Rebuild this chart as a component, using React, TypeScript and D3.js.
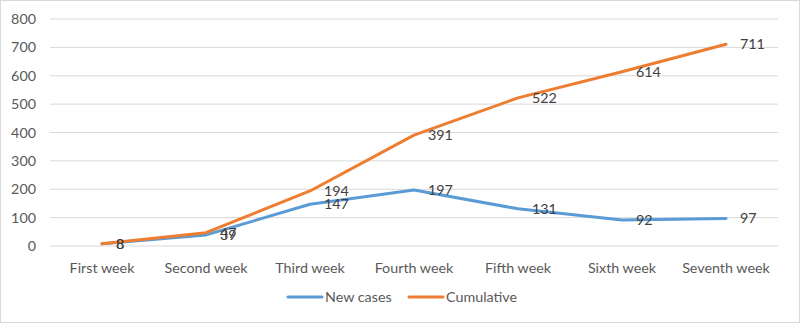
import React from "react";
import * as d3 from "d3";

const categories = ["First week", "Second week", "Third week", "Fourth week", "Fifth week", "Sixth week", "Seventh week"];
const newCases = [8, 39, 147, 197, 131, 92, 97];
const cumulative = [8, 47, 194, 391, 522, 614, 711];
const yTicks = [0, 100, 200, 300, 400, 500, 600, 700, 800];
const seriesNames = ["New cases", "Cumulative"];

const W = 800, H = 326;
const colors = ["#5B9BD5", "#ED7D31"];

export default function App() {
  const x = d3.scaleBand<string>().domain(categories).range([50, 778]);
  const y = d3.scaleLinear().domain([0, 800]).range([246, 19]);
  const cx = (c: string) => (x(c) as number) + x.bandwidth() / 2;
  const line = d3.line<number>()
    .x((_, i) => cx(categories[i]))
    .y((d) => y(d))
    .curve(d3.curveLinear);
  const series = [newCases, cumulative];
  const font = "Lato, 'Open Sans', sans-serif";
  const fs = 14.3;
  return (
    <svg width={W} height={H} style={{ position: "absolute", left: 0, top: 0, background: "#fff" }} fontFamily={font}>
      <rect x={0.5} y={0.5} width={W - 1} height={H - 4} fill="#fff" stroke="#D9D9D9" />
      {yTicks.map((t) => (
        <g key={t}>
          <line x1={50} x2={778} y1={y(t)} y2={y(t)} stroke="#D9D9D9" strokeWidth={1} />
          <text x={36} y={y(t)} dy="0.35em" textAnchor="end" fontSize={fs} fill="#595959">{t}</text>
        </g>
      ))}
      {categories.map((c) => (
        <text key={c} x={cx(c)} y={268} dy="0.35em" textAnchor="middle" fontSize={fs} fill="#595959">{c}</text>
      ))}
      {series.map((s, si) => (
        <path key={si} d={line(s) || ""} fill="none" stroke={colors[si]} strokeWidth={3} strokeLinecap="round" strokeLinejoin="round" />
      ))}
      {series.map((s, si) =>
        s.map((v, i) => (
          <text key={si + "-" + i} x={cx(categories[i]) + 14} y={y(v)} dy="0.35em" fontSize={fs} fill="#404040">{v}</text>
        ))
      )}
      {seriesNames.map((n, i) => {
        const lx = i === 0 ? 288 : 409;
        return (
          <g key={n}>
            <line x1={lx} x2={lx + 34} y1={297} y2={297} stroke={colors[i]} strokeWidth={3} strokeLinecap="round" />
            <text x={lx + 37} y={297} dy="0.35em" fontSize={fs} fill="#595959">{n}</text>
          </g>
        );
      })}
    </svg>
  );
}
